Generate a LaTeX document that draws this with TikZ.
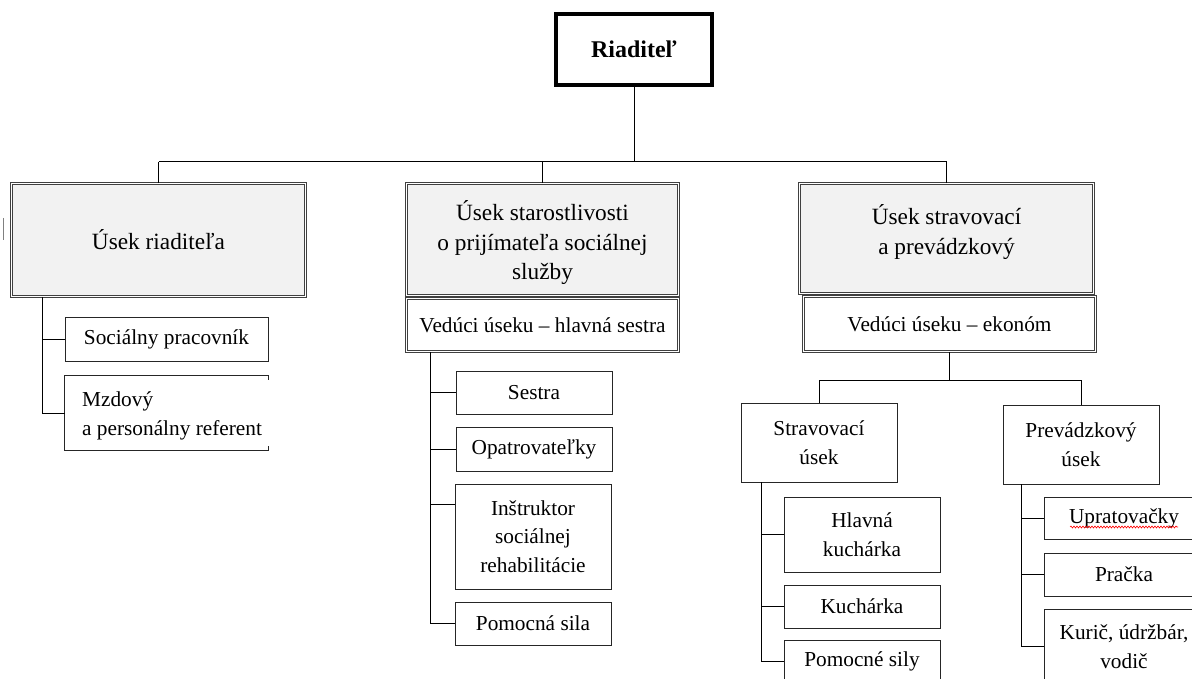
\documentclass[tikz,border=0pt]{standalone}
\usepackage{fontspec}
\setmainfont{Liberation Serif}
\usetikzlibrary{decorations.pathmorphing}
\definecolor{headfill}{HTML}{F2F2F2}
\definecolor{dbl}{HTML}{404040}
\newcommand{\smallfs}{\fontsize{21.3}{28.5}\selectfont}
\newcommand{\headfs}{\fontsize{23.3}{29.5}\selectfont}
\begin{document}
\begin{tikzpicture}[x=1pt,y=-1pt,
  conn/.style={draw=black, line width=1pt},
  headbox/.style={draw=dbl, double=white, double distance=1.2pt, line width=0.9pt, fill=headfill, align=center, inner sep=0pt, font=\headfs},
  leadbox/.style={headbox, fill=white, font=\smallfs},
  topbox/.style={draw=gray, double=black, double distance=3.2pt, line width=0.6pt, fill=white, inner sep=0pt, font=\fontsize{24}{29}\selectfont\bfseries},
  itembox/.style={draw=black!85, line width=0.9pt, fill=white, align=center, inner sep=0pt, font=\smallfs},
  itemline/.style={draw=black!85, line width=0.9pt},
  headtxt/.style={align=center, inner sep=0pt, font=\headfs},
]
\useasboundingbox (0,0) rectangle (1192,679);
\clip (0,0) rectangle (1192,679);

% top
\node[topbox, minimum width=156pt, minimum height=71pt] (riad) at (634,49.5) {Riaditeľ};

% sections
\node[headbox, minimum width=294pt, minimum height=113pt] (s1) at (158.5,240) {Úsek riaditeľa};
\node[headbox, minimum width=272pt, minimum height=112pt] (s2) at (542.5,239.5) {};
\node[headtxt] (s2t) at (542.5,243) {Úsek starostlivosti\\o prijímateľa sociálnej\\služby};
\node[leadbox, minimum width=272pt, minimum height=53pt] (s2l) at (542.5,325) {Vedúci úseku -- hlavná sestra};
\node[headbox, minimum width=294pt, minimum height=110pt] (s3) at (946.5,238.5) {};
\node[headtxt] (s3t) at (946.5,232) {Úsek stravovací\\a prevádzkový};
\node[leadbox, minimum width=292pt, minimum height=55pt] (s3l) at (949.5,324) {Vedúci úseku -- ekonóm};

% bus
\coordinate (bus) at (0,162);
\draw[conn] (riad.south) -- (riad.south |- bus);
\draw[conn] (s1.north |- bus) -- (s3.north |- bus);
\draw[conn] (s1.north) -- (s1.north |- bus);
\draw[conn] (s2.north) -- (s2.north |- bus);
\draw[conn] (s3.north) -- (s3.north |- bus);

% left children
\node[itembox, minimum width=203pt, minimum height=44pt] (c1) at (166.5,339) {Sociálny pracovník};
\node[inner sep=0pt, minimum width=203pt, minimum height=74pt] (m) at (166.5,413) {};
\draw[itemline] ([yshift=-4pt]m.north east) -- (m.north east) -- (m.north west) -- (m.south west) -- (m.south east) -- ++(0,-4);
\node[anchor=west, align=left, inner sep=0pt, font=\smallfs] (mt) at (82,416) {Mzdový\\a personálny referent};
\coordinate (lt) at (42,0);
\draw[conn] (s1.south -| lt) -- (lt |- m.west) -- (m.west);
\draw[conn] (lt |- c1.west) -- (c1.west);

% middle children
\node[itembox, minimum width=156pt, minimum height=43pt] (i1) at (534,392.5) {Sestra};
\node[itembox, minimum width=156pt, minimum height=44pt] (i2) at (534,449) {Opatrovateľky};
\node[itembox, minimum width=156pt, minimum height=105pt] (i3) at (533,536.5) {Inštruktor\\sociálnej\\rehabilitácie};
\node[itembox, minimum width=156pt, minimum height=43pt] (i4) at (533,623.5) {Pomocná sila};
\coordinate (mv) at (430,0);
\coordinate (i3c) at (0,504);
\draw[conn] (s2l.south -| mv) -- (mv |- i4.west) -- (i4.west);
\draw[conn] (mv |- i1.west) -- (i1.west);
\draw[conn] (mv |- i2.west) -- (i2.west);
\draw[conn] (mv |- i3c) -- (i3.west |- i3c);

% right sub-sections
\node[itembox, minimum width=156pt, minimum height=79pt] (st) at (819,442.5) {Stravovací\\úsek};
\node[itembox, minimum width=156pt, minimum height=79pt] (pv) at (1081,444.5) {Prevádzkový\\úsek};
\coordinate (rb) at (0,380);
\draw[conn] (s3l.south) -- (s3l.south |- rb);
\draw[conn] (st.north |- rb) -- (pv.north |- rb);
\draw[conn] (st.north) -- (st.north |- rb);
\draw[conn] (pv.north) -- (pv.north |- rb);

% Stravovaci children
\node[itembox, minimum width=156pt, minimum height=75pt] (k1) at (862,534.5) {Hlavná\\kuchárka};
\node[itembox, minimum width=156pt, minimum height=43pt] (k2) at (862,606.5) {Kuchárka};
\node[itembox, minimum width=156pt, minimum height=43pt] (k3) at (862,661.5) {Pomocné sily};
\coordinate (sv) at (761,0);
\draw[conn] (st.south -| sv) -- (sv |- k3.west) -- (k3.west);
\draw[conn] (sv |- k1.west) -- (k1.west);
\draw[conn] (sv |- k2.west) -- (k2.west);

% Prevadzkovy children
\node[itembox, minimum width=160pt, minimum height=42pt] (u1) at (1124,518) {Upratovačky};
\node[itembox, minimum width=160pt, minimum height=43pt] (u2) at (1124,574.5) {Pračka};
\node[itembox, minimum width=160pt, minimum height=75pt] (u3) at (1124,646.5) {Kurič, údržbár,\\vodič};
\coordinate (pvv) at (1021,0);
\draw[conn] (pv.south -| pvv) -- (pvv |- u3.west) -- (u3.west);
\draw[conn] (pvv |- u1.west) -- (u1.west);
\draw[conn] (pvv |- u2.west) -- (u2.west);

% spell-check underline and stray tick
\draw[red, line width=0.6pt, decorate, decoration={snake, amplitude=1pt, segment length=3pt}] ([xshift=-54pt,yshift=-9pt]u1.center) -- ([xshift=54pt,yshift=-9pt]u1.center);
\draw[gray, line width=0.8pt] (3,218) -- (3,240);
\end{tikzpicture}
\end{document}
